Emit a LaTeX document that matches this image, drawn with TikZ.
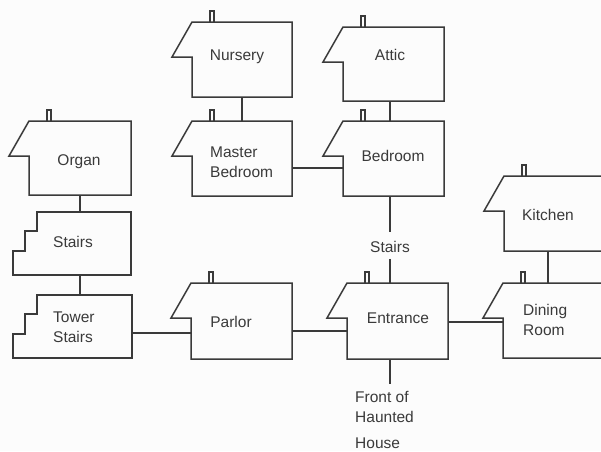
\documentclass[tikz,border=0pt]{standalone}
\usepackage{fontspec}
\setmainfont{Liberation Sans}
\usetikzlibrary{calc}
\definecolor{ink}{HTML}{3A3A3A}
\definecolor{paper}{HTML}{FCFCFC}
\tikzset{
  wall/.style={draw=ink, line width=1.5pt, line join=miter},
  link/.style={draw=ink, line width=1.5pt},
  body/.style={inner sep=0pt, outer sep=0pt, draw=none},
  lbl/.style={text=ink, font=\fontsize{15.5}{20}\selectfont, inner sep=0pt},
}
\newcommand\roomhouse[5]{%
  \node[body, minimum width={(#4-#2)*1pt}, minimum height={(#5-#3)*1pt}] (#1) at ({(#2+#4)/2},{(#3+#5)/2}) {};
  \draw[wall] (#1.north east) -- (#1.north west) -- ++(-20,35) -- ++(20,0) -- (#1.south west) -- (#1.south east) -- cycle;
  \draw[wall] ($(#1.north west)+(18,0)$) -- ++(0,-11) -- ++(4,0) -- ++(0,11);
}
\newcommand\stairbox[5]{%
  \node[body, minimum width={(#4-#2)*1pt}, minimum height={(#5-#3)*1pt}] (#1) at ({(#2+#4)/2},{(#3+#5)/2}) {};
  \draw[wall] (#1.north east) -- (#1.north west) -- ++(0,19) -- ++(-12,0) -- ++(0,20) -- ++(-12,0) |- (#1.south east) -- cycle;
}
\begin{document}
\begin{tikzpicture}[x=1pt,y=-1pt]
\useasboundingbox[fill=paper] (0,0) rectangle (601,451);
\clip (0,0) rectangle (601,451);
% houses
\roomhouse{nursery}{192}{22}{292}{97}
\roomhouse{master}{192}{121}{292}{196}
\roomhouse{attic}{343}{27}{444}{101}
\roomhouse{bedroom}{343}{121}{444}{196}
\roomhouse{organ}{29}{121}{131}{195}
\roomhouse{parlor}{191}{283}{292}{359}
\roomhouse{entrance}{347}{283}{448}{359}
\roomhouse{kitchen}{504}{176}{612}{251}
\roomhouse{dining}{503}{283}{612}{358}
\stairbox{stairs}{37}{212}{131}{275}
\stairbox{tower}{37}{295}{132}{358}
% labels
\node[lbl, anchor=base] (nurseryT) at (237,60.5) {Nursery};
\node[lbl, anchor=base] (atticT) at (390,60.5) {Attic};
\node[lbl, anchor=north west, align=left] (masterT) at (210,146.5) {Master\\Bedroom};
\node[lbl, anchor=base] (bedroomT) at (393,161.5) {Bedroom};
\node[lbl, anchor=base] (organT) at (79,165.5) {Organ};
\node[lbl, anchor=base] (stairsT) at (73,247.5) {Stairs};
\node[lbl, anchor=north west, align=left] (towerT) at (53,311.5) {Tower\\Stairs};
\node[lbl, anchor=base] (stl) at (390,252.5) {Stairs};
\node[lbl, anchor=base] (parlorT) at (231,327.5) {Parlor};
\node[lbl, anchor=base] (entranceT) at (398,323.5) {Entrance};
\node[lbl, anchor=north west, align=left] (front) at (355,391.5) {Front of\\Haunted\\[6pt]House};
\node[lbl, anchor=base] (kitchenT) at (548,220.5) {Kitchen};
\node[lbl, anchor=north west, align=left] (diningT) at (523,304.5) {Dining\\Room};
% connectors
\draw[link] (nursery.south) -- (nursery.south |- master.north);
\draw[link] (stl |- attic.south) -- (stl |- bedroom.north);
\coordinate (mb) at ($(master.east)+(0,9.5)$);
\draw[link] (mb) -- (mb -| bedroom.west);
\draw[link] (stl |- bedroom.south) -- ($(stl.north)+(0,-9)$);
\draw[link] ($(stl.south)+(0,6)$) -- (stl |- entrance.north);
\draw[link] (stl |- entrance.south) -- ($(stl |- front.north)+(0,-8)$);
\draw[link] (organ.south) -- (organ.south |- stairs.north);
\draw[link] (organ.south |- stairs.south) -- (organ.south |- tower.north);
\coordinate (tp) at ($(tower.east)+(0,6.5)$);
\draw[link] (tp) -- (tp -| parlor.west);
\coordinate (pe) at ($(parlor.east)+(0,10)$);
\draw[link] (pe) -- (pe -| entrance.west);
\coordinate (ed) at ($(entrance.east)+(0,1)$);
\draw[link] (ed) -- (ed -| dining.west);
\draw[link] (kitchenT |- kitchen.south) -- (kitchenT |- dining.north);
\end{tikzpicture}
\end{document}
